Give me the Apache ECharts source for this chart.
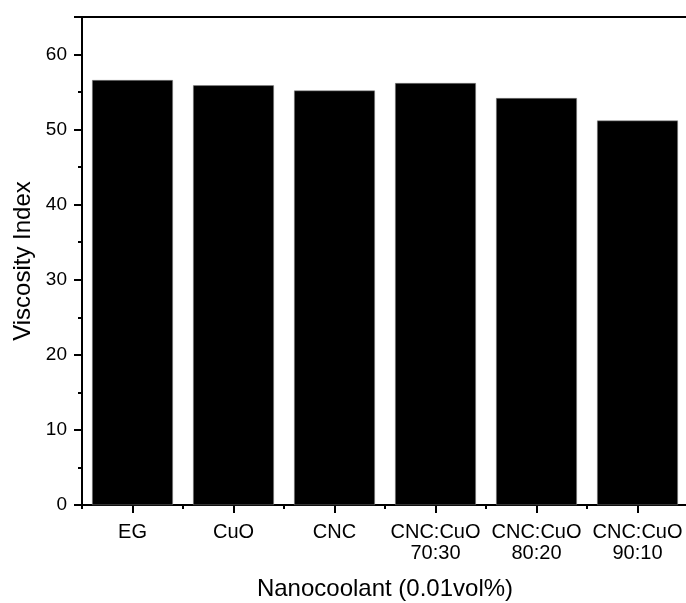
<!DOCTYPE html>
<html>
<head>
<meta charset="utf-8">
<script src="https://cdn.jsdelivr.net/npm/echarts@6/dist/echarts.min.js"></script>
<style>
html,body{margin:0;padding:0;background:#fff;}
#c{width:686px;height:603px;}
</style>
</head>
<body>
<div id="c"></div>
<script>
const categories = ['EG', 'CuO', 'CNC', 'CNC:CuO\n70:30', 'CNC:CuO\n80:20', 'CNC:CuO\n90:10'];
const viscosityIndex = [56.6, 55.9, 55.2, 56.2, 54.2, 51.2];
const yTicks = { min: 0, max: 65, interval: 10 };

const font = 'Liberation Sans, Arial, sans-serif';
const gridBox = { left: 82, right: -2, top: 17, bottom: 98, containLabel: false, outerBoundsMode: 'none' };

const chart = echarts.init(document.getElementById('c'));
chart.setOption({
  animation: false,
  backgroundColor: '#fff',
  grid: [
    Object.assign({}, gridBox),
    Object.assign({}, gridBox)
  ],
  xAxis: [
    {
      type: 'category', gridIndex: 0, position: 'bottom',
      data: categories,
      name: 'Nanocoolant (0.01vol%)', nameLocation: 'middle', nameGap: 72,
      nameTextStyle: { fontFamily: font, fontSize: 24, color: '#000' },
      axisLine: { show: true, lineStyle: { color: '#000', width: 2 } },
      axisTick: { show: true, alignWithLabel: true, length: 8, lineStyle: { color: '#000', width: 2 } },
      axisLabel: { show: true, fontFamily: font, fontSize: 20, color: '#000', margin: 17, lineHeight: 21, interval: 0 }
    },
    {
      type: 'category', gridIndex: 0, position: 'top',
      data: categories,
      axisLine: { show: true, lineStyle: { color: '#000', width: 2 } },
      axisTick: { show: false }, axisLabel: { show: false }
    },
    {
      type: 'category', gridIndex: 1, position: 'bottom',
      data: categories,
      axisLine: { show: false },
      axisTick: { show: true, alignWithLabel: false, interval: 0, length: 4, lineStyle: { color: '#000', width: 2 } },
      axisLabel: { show: false }
    }
  ],
  yAxis: [
    {
      type: 'value', gridIndex: 0,
      min: yTicks.min, max: yTicks.max, interval: yTicks.interval,
      name: 'Viscosity Index', nameLocation: 'middle', nameGap: 45,
      nameTextStyle: { fontFamily: font, fontSize: 24, color: '#000' },
      axisLine: { show: true, lineStyle: { color: '#000', width: 2 } },
      axisTick: { show: true, length: 8, lineStyle: { color: '#000', width: 2 } },
      minorTick: { show: true, splitNumber: 2, length: 4, lineStyle: { color: '#000', width: 2 } },
      splitLine: { show: false },
      axisLabel: {
        fontFamily: font, fontSize: 19, color: '#000', margin: 15,
        formatter: v => (v % 10 === 0 && v <= 60) ? String(v) : ''
      }
    },
    {
      type: 'value', gridIndex: 1, min: yTicks.min, max: yTicks.max, show: false
    }
  ],
  series: [
    {
      type: 'bar', xAxisIndex: 0, yAxisIndex: 0,
      data: viscosityIndex,
      barCategoryGap: '20%',
      itemStyle: { color: '#000', borderColor: '#888', borderWidth: 0.5 }
    }
  ]
});
</script>
</body>
</html>
